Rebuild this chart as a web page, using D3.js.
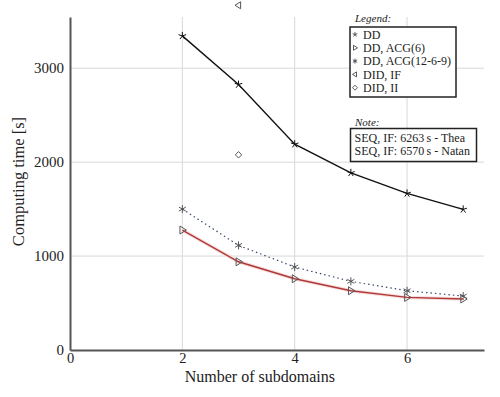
<!DOCTYPE html>
<html>
<head>
<meta charset="utf-8">
<script src="https://cdn.jsdelivr.net/npm/d3@7"></script>
<style>
  body { margin: 0; background: #fff; }
  svg text { font-family: "Liberation Serif", serif; fill: #222; }
</style>
</head>
<body>
<div class="box"></div>
<script>
// data
const subdomains = [2, 3, 4, 5, 6, 7];
const ddTimes = [3344, 2826, 2191, 1886, 1667, 1497];
const acg6Times = [1277, 939, 759, 631, 560, 543];
const acg1269Times = [1500, 1114, 883, 731, 631, 574];
const didIfPoint = [3, 3670];
const didIiPoint = [3, 2078];
const xTicks = [0, 2, 4, 6];
const yTicks = [0, 1000, 2000, 3000];
const legendLabels = ["DD", "DD, ACG(6)", "DD, ACG(12-6-9)", "DID, IF", "DID, II"];
const noteLines = ["SEQ, IF: 6263\u2009s - Thea", "SEQ, IF: 6570\u2009s - Natan"];

const W = 500, H = 397;
const margin = { top: 17, right: 16, bottom: 47, left: 70 };
const width = W - margin.left - margin.right, height = H - margin.top - margin.bottom;

const svg = d3.select(".box").append("svg")
  .attr("width", W).attr("height", H);
const g = svg.append("g").attr("transform", `translate(${margin.left},${margin.top})`);

const x = d3.scaleLinear().domain([0, 7.37]).range([0, width]);
const y = d3.scaleLinear().domain([0, 3545]).range([height, 0]);

// grid
g.append("g").selectAll("line").data(xTicks.filter(d => d > 0)).enter().append("line")
  .attr("x1", d => x(d)).attr("x2", d => x(d)).attr("y1", 0).attr("y2", height)
  .attr("stroke", "#d8d8d8").attr("stroke-width", 1);
g.append("g").selectAll("line").data(yTicks.filter(d => d > 0)).enter().append("line")
  .attr("x1", 0).attr("x2", width).attr("y1", d => y(d)).attr("y2", d => y(d))
  .attr("stroke", "#d8d8d8").attr("stroke-width", 1);

// axes
const xAxis = g.append("g").attr("transform", `translate(0,${height})`)
  .call(d3.axisBottom(x).tickValues(xTicks).tickFormat(d3.format("d")).tickSize(0).tickPadding(3));
const yAxis = g.append("g")
  .call(d3.axisLeft(y).tickValues(yTicks).tickFormat(d3.format("d")).tickSize(0).tickPadding(6));
[xAxis, yAxis].forEach(a => {
  a.attr("font-family", null).attr("font-size", null);
  a.select(".domain").attr("stroke", "#555").attr("stroke-width", 2);
  a.selectAll("text").style("font-size", "15px").attr("fill", "#222");
});
xAxis.selectAll("text").style("font-size", "14.5px").attr("dy", "0.72em");
yAxis.selectAll("text").attr("dy", "0.3em");

// axis titles
svg.append("text").attr("x", margin.left + x(3.38)).attr("y", 382)
  .attr("text-anchor", "middle").style("font-size", "16px").text("Number of subdomains");
svg.append("text").attr("transform", `translate(24,${margin.top + height / 2 - 2}) rotate(-90)`)
  .attr("text-anchor", "middle").style("font-size", "16.5px").text("Computing time [s]");

// marker shapes
function starPath(r, n) {
  let p = "";
  for (let i = 0; i < n; i++) {
    const a = -Math.PI / 2 + i * 2 * Math.PI / n;
    p += `M0,0L${r * Math.cos(a)},${r * Math.sin(a)}`;
  }
  return p;
}
const triRight = r => `M${-r * 0.6},${-r}L${r},0L${-r * 0.6},${r}Z`;
const triLeft = r => `M${r * 0.6},${-r}L${-r},0L${r * 0.6},${r}Z`;
const diamond = r => `M0,${-r}L${r},0L0,${r}L${-r},0Z`;

const line = d3.line().x(d => x(d[0])).y(d => y(d[1]));
const zip = vals => subdomains.map((s, i) => [s, vals[i]]);

// ACG(12-6-9) dotted
g.append("path").datum(zip(acg1269Times)).attr("d", line)
  .attr("fill", "none").attr("stroke", "#3a4a6a").attr("stroke-width", 1.2).attr("stroke-dasharray", "1.5,3");
g.selectAll(".m3").data(zip(acg1269Times)).enter().append("path")
  .attr("transform", d => `translate(${x(d[0])},${y(d[1])})`)
  .attr("d", starPath(4, 6)).attr("stroke", "#555").attr("stroke-width", 1);

// ACG(6) red
g.append("path").datum(zip(acg6Times)).attr("d", line)
  .attr("fill", "none").attr("stroke", "#f6dede").attr("stroke-width", 3.5);
g.append("path").datum(zip(acg6Times)).attr("d", line)
  .attr("fill", "none").attr("stroke", "#b03838").attr("stroke-width", 1.4);
g.selectAll(".m2").data(zip(acg6Times)).enter().append("path")
  .attr("transform", d => `translate(${x(d[0])},${y(d[1])})`)
  .attr("d", triRight(4)).attr("fill", "none").attr("stroke", "#555").attr("stroke-width", 1);

// DD solid black
g.append("path").datum(zip(ddTimes)).attr("d", line)
  .attr("fill", "none").attr("stroke", "#111").attr("stroke-width", 1.4);
g.selectAll(".m1").data(zip(ddTimes)).enter().append("path")
  .attr("transform", d => `translate(${x(d[0])},${y(d[1])})`)
  .attr("d", starPath(4, 5)).attr("stroke", "#111").attr("stroke-width", 1);

// DID single points
g.append("path").attr("transform", `translate(${x(didIfPoint[0])},${y(didIfPoint[1])})`)
  .attr("d", triLeft(3.5)).attr("fill", "none").attr("stroke", "#555").attr("stroke-width", 1);
g.append("path").attr("transform", `translate(${x(didIiPoint[0])},${y(didIiPoint[1])})`)
  .attr("d", diamond(3.2)).attr("fill", "none").attr("stroke", "#555").attr("stroke-width", 1);

// legend
const lg = svg.append("g").attr("transform", "translate(350,27)");
svg.append("text").attr("x", 355).attr("y", 22).style("font-size", "11px").style("font-style", "italic").text("Legend:");
lg.append("rect").attr("width", 106).attr("height", 70).attr("fill", "#fff").attr("stroke", "#222").attr("stroke-width", 1.5);
const shapes = [starPath(2.5, 5), triRight(2.5), starPath(2.5, 6), triLeft(2.5), diamond(2.5)];
legendLabels.forEach((lab, i) => {
  const cy = 7.5 + i * 13.3;
  lg.append("path").attr("transform", `translate(5,${cy})`).attr("d", shapes[i])
    .attr("fill", "none").attr("stroke", "#333").attr("stroke-width", 0.8);
  lg.append("text").attr("x", 13).attr("y", cy).attr("dy", "0.35em").style("font-size", "12px").text(lab);
});

// note
svg.append("text").attr("x", 355).attr("y", 126).style("font-size", "11px").style("font-style", "italic").text("Note:");
const ng = svg.append("g").attr("transform", "translate(350.5,128.5)");
ng.append("rect").attr("width", 126).attr("height", 33).attr("fill", "#fff").attr("stroke", "#222").attr("stroke-width", 1.5);
noteLines.forEach((t, i) => {
  ng.append("text").attr("x", 4).attr("y", 9 + i * 13).attr("dy", "0.35em").style("font-size", "12px").text(t);
});
</script>
</body>
</html>
